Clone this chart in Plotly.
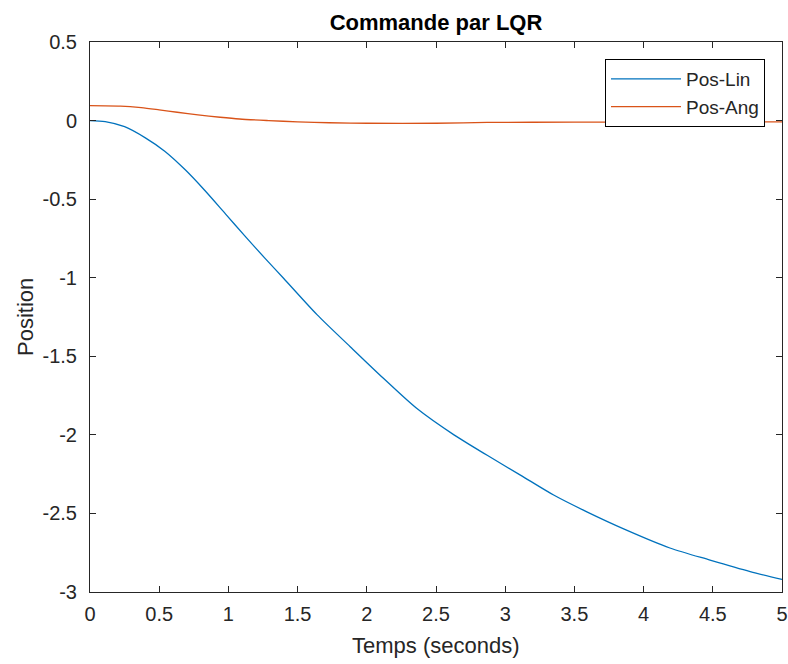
import plotly.graph_objects as go

# Pos-Lin (blue)
t_lin = [0, 0.11, 0.25, 0.40, 0.54, 0.69, 0.83, 0.98, 1.12, 1.26, 1.40, 1.64,
         1.88, 2.12, 2.36, 2.63, 2.87, 3.11, 3.35, 3.59, 3.86, 4.19, 4.48, 4.77, 5.0]
pos_lin = [0, -0.007, -0.039, -0.11, -0.195, -0.315, -0.445, -0.595, -0.735, -0.872,
           -1.005, -1.235, -1.439, -1.64, -1.831, -2.00, -2.13, -2.256, -2.383,
           -2.49, -2.60, -2.72, -2.797, -2.87, -2.92]

# Pos-Ang (orange)
t_ang = [0, 0.22, 0.37, 0.5, 0.63, 0.78, 0.94, 1.08, 1.29, 1.5, 1.73, 2.0,
         2.5, 2.87, 3.5, 4.0, 4.5, 5.0]
pos_ang = [0.095, 0.092, 0.082, 0.068, 0.053, 0.036, 0.021, 0.010, 0.0, -0.008,
           -0.014, -0.017, -0.017, -0.012, -0.01, -0.009, -0.009, -0.008]

x_ticks = [0, 0.5, 1, 1.5, 2, 2.5, 3, 3.5, 4, 4.5, 5]
x_labels = ["0", "0.5", "1", "1.5", "2", "2.5", "3", "3.5", "4", "4.5", "5"]
y_ticks = [0.5, 0, -0.5, -1, -1.5, -2, -2.5, -3]
y_labels = ["0.5", "0", "-0.5", "-1", "-1.5", "-2", "-2.5", "-3"]

FONT = "Liberation Sans, Arial, sans-serif"
GRAY = "#262626"
W, H = 788, 664
L, R, T, B = 90, 6, 42, 72
PW, PH = W - L - R, H - T - B

fig = go.Figure()
fig.add_trace(go.Scatter(x=t_lin, y=pos_lin, mode="lines", name="Pos-Lin",
                         line=dict(color="#0072BD", width=1.3, shape="spline", smoothing=0.8)))
fig.add_trace(go.Scatter(x=t_ang, y=pos_ang, mode="lines", name="Pos-Ang",
                         line=dict(color="#D95319", width=1.3, shape="spline", smoothing=0.8)))

axis_common = dict(showgrid=False, zeroline=False, showline=True, linecolor=GRAY,
                   linewidth=1, mirror="ticks", ticks="inside", ticklen=6,
                   tickcolor=GRAY, automargin=False, ticklabeloverflow="allow",
                   tickfont=dict(family=FONT, size=20, color=GRAY))

fig.update_layout(
    width=W, height=H,
    margin=dict(l=L, r=R, t=T, b=B),
    paper_bgcolor="white", plot_bgcolor="white",
    title=dict(text="<b>Commande par LQR</b>", x=(L + W - R) / 2 / W, xanchor="center",
               y=1 - 22 / H, yanchor="middle",
               font=dict(family=FONT, size=22, color="black")),
    xaxis=dict(range=[0, 5], tickvals=x_ticks, ticktext=x_labels,
               ticklabelstandoff=4, **axis_common),
    yaxis=dict(range=[-3, 0.5], tickvals=y_ticks, ticktext=y_labels,
               ticklabelstandoff=8, **axis_common),
    legend=dict(x=(765 - 90) / PW, y=(592 - 59) / PH, xanchor="right", yanchor="top",
                bgcolor="white", bordercolor="black", borderwidth=1,
                font=dict(family=FONT, size=19, color=GRAY), itemwidth=70,
                tracegroupgap=0),
    showlegend=True,
    annotations=[
        dict(text="Temps (seconds)", xref="paper", yref="paper",
             x=0.5, y=-(645 - 592) / PH, xanchor="center", yanchor="middle",
             showarrow=False, font=dict(family=FONT, size=22, color=GRAY)),
        dict(text="Position", xref="paper", yref="paper",
             x=-(90 - 25) / PW, y=0.5, xanchor="center", yanchor="middle",
             textangle=-90, showarrow=False, font=dict(family=FONT, size=22, color=GRAY)),
    ],
)

fig.write_html("out.html", config={"displayModeBar": False},
               post_script="document.body.style.margin='0';"
                           "document.documentElement.style.overflow='hidden';")
